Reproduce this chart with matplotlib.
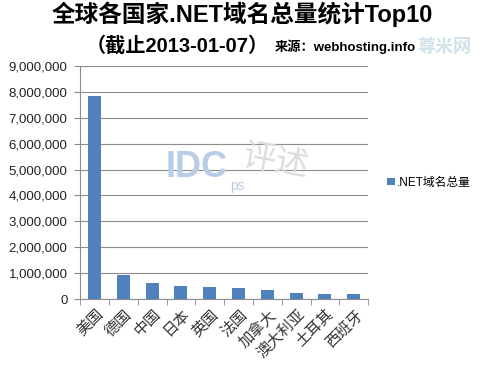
import matplotlib.pyplot as plt
from matplotlib.ticker import FuncFormatter, FixedLocator
import numpy as np

plt.rcParams['font.family'] = ['Liberation Sans', 'Noto Sans CJK SC', 'DejaVu Sans']

countries = ['美国', '德国', '中国', '日本', '英国', '法国', '加拿大', '澳大利亚', '土耳其', '西班牙']
domains = [7830000, 930000, 630000, 500000, 460000, 430000, 350000, 240000, 190000, 180000]
yticks = [0, 1000000, 2000000, 3000000, 4000000, 5000000, 6000000, 7000000, 8000000, 9000000]

fig = plt.figure(figsize=(4.8, 3.68), dpi=100)
ax = fig.add_axes([0.167, 0.1875, 0.600, 0.633])

x = np.arange(len(countries))
ax.bar(x, domains, width=0.45, color='#4F81BD', label='.NET域名总量', zorder=3)

ax.set_xlim(-0.5, len(countries) - 0.5)
ax.set_ylim(0, 9000000)
ax.set_yticks(yticks)
ax.yaxis.set_major_formatter(FuncFormatter(lambda v, p: f'{int(v):,}'))
ax.grid(axis='y', color='#8c8c8c', linewidth=0.8, zorder=0)
ax.set_xticks(x)
ax.set_xticklabels(countries, rotation=45, ha='right', rotation_mode='anchor',
                   fontsize=11, family=['Noto Sans CJK SC'], color='#333333')
ax.tick_params(axis='x', length=0, pad=5)
ax.xaxis.set_minor_locator(FixedLocator(np.arange(-0.5, len(countries), 1)))
ax.tick_params(axis='x', which='minor', length=4, color='#8c8c8c')
ax.tick_params(axis='y', labelsize=9.5, length=4, color='#8c8c8c', pad=5, labelcolor='#222222')
for s in ['top', 'right']:
    ax.spines[s].set_visible(False)
for s in ['left', 'bottom']:
    ax.spines[s].set_color('#8c8c8c')

# watermarks
fig.text(0.41, 0.545, 'IDC', fontsize=26, color='#b9cde6', fontweight='bold', ha='center', va='center')
fig.text(0.495, 0.495, 'ps', fontsize=10, color='#b9cde6', ha='center', va='center')
fig.text(0.575, 0.56, '评述', fontsize=24, color='#dcdcdc', ha='center', va='center',
         family=['Noto Sans CJK SC'], rotation=-10)
fig.text(0.925, 0.875, '尊米网', fontsize=13, color='#cfe3e8', fontweight='bold', ha='center', va='center',
         family=['Noto Sans CJK SC'])

ax.legend(loc='center left', bbox_to_anchor=(1.03, 0.5), frameon=False,
          handlelength=0.6, handleheight=0.6, handletextpad=0.2,
          prop={'family': ['Liberation Sans', 'Noto Sans CJK SC'], 'size': 8.5})

fig.text(0.505, 0.962, '全球各国家.NET域名总量统计Top10', fontsize=17, fontweight='bold',
         ha='center', va='center', family=['Liberation Sans', 'Noto Sans CJK SC'])
fig.text(0.178, 0.875, '（截止2013-01-07）', fontsize=14.5, fontweight='bold',
         ha='left', va='center', family=['Liberation Sans', 'Noto Sans CJK SC'])
fig.text(0.573, 0.872, '来源：webhosting.info', fontsize=9.5, fontweight='bold',
         ha='left', va='center', family=['Liberation Sans', 'Noto Sans CJK SC'])

fig.savefig('out.png', dpi=100)
